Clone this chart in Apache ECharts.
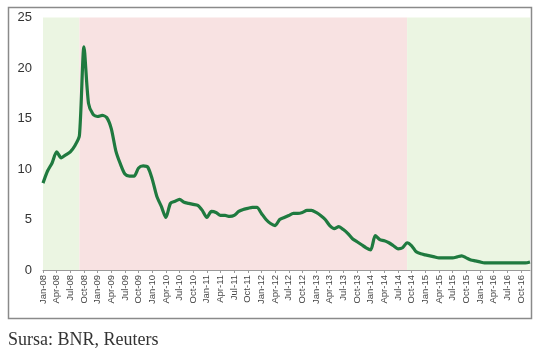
<!DOCTYPE html>
<html>
<head>
<meta charset="utf-8">
<script src="https://cdn.jsdelivr.net/npm/echarts@6/dist/echarts.min.js"></script>
<style>
html,body{margin:0;padding:0;background:#fff;}
#c{width:548px;height:357px;}
</style>
</head>
<body>
<div id="c"></div>
<script>
const monthNames = ['Jan','Feb','Mar','Apr','May','Jun','Jul','Aug','Sep','Oct','Nov','Dec'];
const years = ['08','09','10','11','12','13','14','15','16'];
const categories = [];
years.forEach(y => monthNames.forEach(m => categories.push(m + '-' + y)));

const values = [
  8.6, 9.8, 10.6, 11.7, 11.1, 11.4, 11.7, 12.3, 13.3, 22.1, 16.5, 15.4,
  15.2, 15.3, 15.1, 14.0, 11.8, 10.5, 9.5, 9.3, 9.3, 10.1, 10.3, 10.2,
  9.0, 7.3, 6.3, 5.2, 6.6, 6.8, 7.0, 6.7, 6.6, 6.5, 6.4, 5.9,
  5.2, 5.8, 5.7, 5.4, 5.4, 5.3, 5.4, 5.8, 6.0, 6.1, 6.2, 6.2,
  5.6, 5.0, 4.6, 4.4, 5.0, 5.2, 5.4, 5.6, 5.6, 5.7, 5.9, 5.9,
  5.7, 5.4, 5.0, 4.4, 4.1, 4.3, 4.0, 3.6, 3.1, 2.8, 2.5, 2.2,
  2.0, 3.4, 3.0, 2.9, 2.7, 2.4, 2.1, 2.2, 2.7, 2.4, 1.8, 1.6,
  1.5, 1.4, 1.3, 1.2, 1.2, 1.2, 1.2, 1.3, 1.4, 1.2, 1.0, 0.9,
  0.8, 0.7, 0.7, 0.7, 0.7, 0.7, 0.7, 0.7, 0.7, 0.7, 0.7, 0.8
];

const greenStart1 = 'Jan-08', pinkStart = 'Sep-08', greenStart2 = 'Sep-14', lastMonth = 'Dec-16';
const yTicks = { min: 0, max: 25, interval: 5 };

const chart = echarts.init(document.getElementById('c'), null, { renderer: 'canvas' });
chart.setOption({
  animation: false,
  backgroundColor: '#ffffff',
  graphic: [
    { type: 'rect', shape: { x: 8.5, y: 7.5, width: 523, height: 311 },
      style: { fill: 'none', stroke: '#8a8a8a', lineWidth: 1.5 }, z: 100 },
    { type: 'text', left: 8, top: 331,
      style: { text: 'Sursa: BNR, Reuters', font: '18px "Liberation Serif", "DejaVu Serif", serif', fill: '#333' } }
  ],
  grid: { left: 43, right: 18, top: 17.5, bottom: 87, containLabel: false },
  xAxis: {
    type: 'category',
    data: categories,
    boundaryGap: false,
    axisLine: { lineStyle: { color: '#9a9a9a', width: 1 } },
    axisTick: { interval: 2, length: 3, lineStyle: { color: '#9a9a9a' } },
    axisLabel: { interval: 2, rotate: 90, fontSize: 9.5, color: '#444', margin: 5, fontFamily: 'Liberation Sans, Arial, sans-serif' },
    splitLine: { show: false }
  },
  yAxis: {
    type: 'value',
    min: yTicks.min, max: yTicks.max, interval: yTicks.interval,
    axisLine: { show: false },
    axisTick: { show: false },
    splitLine: { show: false },
    axisLabel: { fontSize: 13, color: '#333', margin: 11, fontFamily: 'Liberation Sans, Arial, sans-serif' }
  },
  series: [{
    type: 'line',
    data: values,
    showSymbol: false,
    smooth: 0.25,
    lineStyle: { color: '#1f7a3f', width: 3.2 },
    markArea: {
      silent: true,
      data: [
        [{ xAxis: greenStart1, itemStyle: { color: '#ebf5e2' } }, { xAxis: pinkStart }],
        [{ xAxis: pinkStart, itemStyle: { color: '#f8e2e2' } }, { xAxis: greenStart2 }],
        [{ xAxis: greenStart2, itemStyle: { color: '#ebf5e2' } }, { xAxis: lastMonth }]
      ]
    }
  }]
});
</script>
</body>
</html>
